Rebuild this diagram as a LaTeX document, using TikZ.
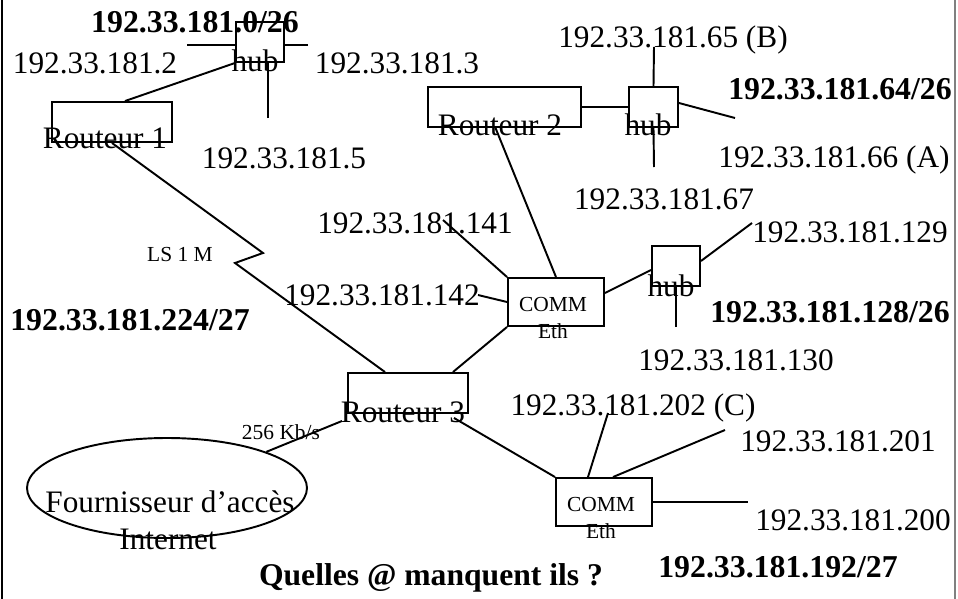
\documentclass[tikz,border=0pt]{standalone}
\usepackage{fontspec}
\setmainfont{Liberation Serif}
\usetikzlibrary{shapes.geometric,calc}

\begin{document}
\begin{tikzpicture}[x=0.02cm,y=-0.02cm,line width=1.1pt,
  lbl/.style={inner sep=0pt,font=\fontsize{17.8}{20}\selectfont},
  netw/.style={inner sep=0pt,font=\fontsize{18.1}{21}\selectfont\bfseries},
  tiny/.style={inner sep=0pt,font=\fontsize{12.2}{14}\selectfont},
  box/.style={draw,inner sep=0pt,minimum width=#1*0.02cm,minimum height=40*0.02cm},
  box/.default=120]
\useasboundingbox (0,0) rectangle (958,599);
\draw (2,0) -- (2,599);
\draw[gray] (955,0) -- (955,599);

% reseau 0/26
\node[box=48] (hubA) at (260,42) {};
\node[box] (r1) at (112,122) {};
\node[netw] (n0) at (195,22) {192.33.181.0/26};
\node[lbl] (a2) at (95,63) {192.33.181.2};
\node[lbl] (hubAtxt) at (255,61) {hub};
\node[lbl] (a3) at (397,63) {192.33.181.3};
\node[lbl] (a5) at (284,158) {192.33.181.5};
\node[lbl] (r1txt) at (105,138) {Routeur 1};
\coordinate (pa2) at (187,45);
\coordinate (pa3) at (308,45);
\coordinate (pa5) at (268,118);
\draw (pa2) -- (pa2 -| hubA.west);
\draw (pa3) -- (pa3 -| hubA.east);
\draw (pa5) -- (pa5 |- hubA.south);
\draw ($(r1.north)+(13,0)$) -- (hubA.south west);

% liaison LS
\coordinate (z1) at (263,253);
\coordinate (z2) at (235,263);
\node[tiny] (ls) at (180,255) {LS 1 M};
\node[netw] (n224) at (130,320) {192.33.181.224/27};
\node[box] (r3) at (408,393) {};
\node[lbl] (r3txt) at (403,412) {Routeur 3};
\draw (r1.south) -- (z1) -- (z2) -- ($(r3.north)+(-23,0)$);

% reseau 64/26
\node[box=153] (r2) at (504.5,107) {};
\node[box=49] (hubB) at (653.5,107) {};
\node[lbl] (r2txt) at (500,125) {Routeur 2};
\node[lbl] (hubBtxt) at (648,125) {hub};
\node[lbl] (b65) at (673,40) {192.33.181.65 (B)};
\node[netw] (n64) at (840,89) {192.33.181.64/26};
\node[lbl] (b66) at (834,160) {192.33.181.66 (A)};
\node[lbl] (b67) at (664,199) {192.33.181.67};
\coordinate (pb65) at (654,47);
\coordinate (pb67) at (654,167);
\coordinate (pb66) at (735,118);
\draw (r2.east) -- (hubB.west);
\draw (hubB.north) -- (pb65);
\draw (hubB.south) -- (pb67);
\draw ($(hubB.east)+(0,-4)$) -- (pb66);

% COMM Eth 1 et reseau 128/26
\node[box=96,minimum height=48*0.02cm] (commA) at (556,302) {};
\node[tiny] (commAtxt) at (553,305) {COMM};
\node[tiny] (ethA) at (553,331) {Eth};
\node[lbl] (c141) at (415,223) {192.33.181.141};
\node[lbl] (c142) at (382,295) {192.33.181.142};
\coordinate (pc141) at (443,220);
\coordinate (pc142) at (478,295);
\node[box=48] (hubC) at (676,266) {};
\node[lbl] (hubCtxt) at (671,286) {hub};
\node[lbl] (c129) at (850,232) {192.33.181.129};
\node[netw] (n128) at (830,312) {192.33.181.128/26};
\node[lbl] (c130) at (736,360) {192.33.181.130};
\coordinate (pc129) at (752,223);
\coordinate (pc130) at (676,327);
\draw ($(r3.north east)+(-16,0)$) -- (commA.south west);
\draw (commA.north) -- ($(r2.south)+(-9,0)$);
\draw (commA.north west) -- (pc141);
\draw (commA.west) -- (pc142);
\draw ($(commA.east)+(0,-9)$) -- ($(hubC.west)+(0,4)$);
\draw ($(hubC.east)+(0,-5)$) -- (pc129);
\draw (pc130) -- (pc130 |- hubC.south);

% fournisseur
\node[draw,ellipse,minimum width=280*0.02cm,minimum height=100*0.02cm] (isp) at (167,488) {};
\node[lbl] (isptxt) at (170,502) {Fournisseur d’accès};
\node[lbl] (inet) at (168,539) {Internet};
\node[tiny] (debit) at (281,432) {256 Kb/s};
\draw ($(r3.south west)+(-5,7)$) -- (isp.20);

% COMM Eth 2 et reseau 192/27
\node[box=96,minimum height=48*0.02cm] (commB) at (604,502) {};
\node[tiny] (commBtxt) at (601,505) {COMM};
\node[tiny] (ethB) at (601,531) {Eth};
\node[lbl] (d202) at (633,408) {192.33.181.202 (C)};
\node[lbl] (d201) at (838,441) {192.33.181.201};
\node[lbl] (d200) at (853,520) {192.33.181.200};
\node[netw] (n192) at (778,567) {192.33.181.192/27};
\coordinate (pd202) at (608,413);
\coordinate (pd201) at (725,430);
\coordinate (pd200) at (748,502);
\draw ($(r3.south east)+(-15,4)$) -- (commB.north west);
\draw ($(commB.north)+(-16,0)$) -- (pd202);
\draw ($(commB.north)+(9,0)$) -- (pd201);
\draw (commB.east) -- (pd200);

\node[font=\fontsize{18}{21}\selectfont\bfseries,inner sep=0pt] (quest) at (431,578) {Quelles @ manquent ils ?};
\end{tikzpicture}
\end{document}
